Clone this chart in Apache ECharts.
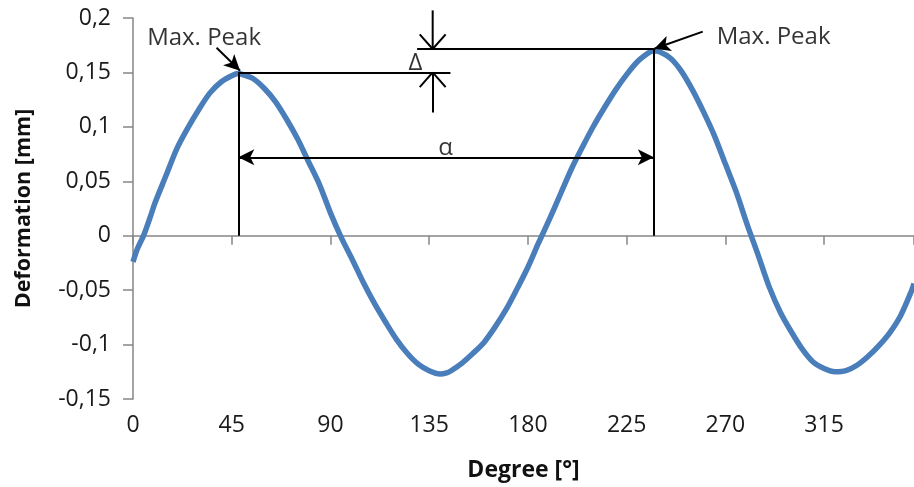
<!DOCTYPE html>
<html>
<head>
<meta charset="utf-8">
<script src="https://cdn.jsdelivr.net/npm/echarts@6/dist/echarts.min.js"></script>
<style>
  html, body { margin: 0; padding: 0; background: #fff; }
  #chart { width: 914px; height: 487px; }
</style>
</head>
<body>
<div id="chart"></div>
<script>
const degrees = [0, 2, 5, 8, 10, 15, 20, 25, 30, 35, 40, 45, 48, 50, 55, 60, 65, 70, 75, 80, 85, 90, 95,
  100, 105, 110, 115, 120, 125, 130, 135, 140, 143, 145, 150, 155, 160, 165, 170, 175, 180, 185, 190, 195,
  200, 205, 210, 215, 220, 225, 230, 235, 237, 240, 245, 250, 255, 260, 265, 270, 275, 280, 285, 290, 295,
  300, 305, 310, 315, 320, 325, 330, 335, 340, 345, 350, 355, 356]
const deformation = [-0.024, -0.012, 0.001, 0.018, 0.030, 0.055, 0.080, 0.099, 0.116, 0.131, 0.141, 0.147, 0.149, 0.148, 0.144, 0.135, 0.123, 0.107, 0.089, 0.068, 0.047, 0.021, -0.002,
  -0.022, -0.043, -0.062, -0.079, -0.095, -0.108, -0.118, -0.124, -0.127, -0.126, -0.124, -0.117, -0.108, -0.098, -0.084, -0.068, -0.049, -0.029, -0.006, 0.016, 0.039,
  0.062, 0.082, 0.101, 0.118, 0.134, 0.148, 0.160, 0.168, 0.170, 0.169, 0.163, 0.151, 0.134, 0.114, 0.092, 0.066, 0.040, 0.010, -0.018, -0.047, -0.070,
  -0.088, -0.104, -0.116, -0.122, -0.125, -0.124, -0.119, -0.111, -0.101, -0.089, -0.073, -0.050, -0.044]

const xTicks = [0, 45, 90, 135, 180, 225, 270, 315]
const yTicks = [-0.15, -0.1, -0.05, 0, 0.05, 0.1, 0.15, 0.2]

// annotation positions (degree, mm)
const peakLeft = [48, 0.15]
const peakRight = [237.4, 0.1715]
const deltaX = 136.6
const deltaTop = 0.207
const deltaBottom = 0.1133
const alphaY = 0.072
const notes = [
  [32.4, 0.1817, 'Max. Peak'],
  [292, 0.182, 'Max. Peak'],
  [128.8, 0.1585, 'Δ'],
  [142.5, 0.0803, 'α']
]
// open "V" heads of the delta arrows
const headDx = 5.9
const headDy = 0.0135

const fontFam = '"Open Sans", sans-serif'
const axisGray = '#868686'

const chartDom = document.getElementById('chart')
const myChart = echarts.init(chartDom)

const arrowEnd = { symbol: 'arrow', symbolSize: [12, 16] }

const option = {
  animation: false,
  grid: { left: 133, right: 0, top: 18, bottom: 80, containLabel: false },
  xAxis: [
    {
      type: 'value',
      min: 0,
      max: 356,
      interval: 45,
      position: 'bottom',
      axisLine: { show: false, onZero: false },
      axisTick: { show: false },
      splitLine: { show: false },
      axisLabel: {
        showMaxLabel: false,
        margin: 15,
        color: '#1a1a1a',
        fontSize: 23,
        fontFamily: fontFam,
        formatter: v => (xTicks.includes(v) ? String(v) : '')
      },
      name: 'Degree [°]',
      nameLocation: 'middle',
      nameGap: 60,
      nameTextStyle: { fontSize: 23, fontWeight: 'bold', color: '#111', fontFamily: fontFam }
    },
    {
      type: 'value',
      min: 0,
      max: 356,
      interval: 45,
      position: 'top',
      axisLine: { show: true, onZero: true, lineStyle: { color: axisGray, width: 1.5 } },
      axisTick: { show: true, inside: true, length: 9, lineStyle: { color: axisGray, width: 1.5 } },
      axisLabel: { show: false },
      splitLine: { show: false }
    }
  ],
  yAxis: {
    type: 'value',
    min: -0.15,
    max: 0.2,
    interval: 0.05,
    axisLine: { show: true, onZero: false, lineStyle: { color: axisGray, width: 1.5 } },
    axisTick: { show: true, length: 10, lineStyle: { color: axisGray, width: 1.5 } },
    splitLine: { show: false },
    axisLabel: {
      margin: 22,
      color: '#1a1a1a',
      fontSize: 23,
      fontFamily: fontFam,
      formatter: v => {
        const t = yTicks.find(k => Math.abs(k - v) < 1e-9)
        return t === undefined ? '' : String(t).replace('.', ',')
      }
    },
    name: 'Deformation [mm]',
    nameLocation: 'middle',
    nameGap: 98,
    nameTextStyle: { fontSize: 21.5, fontWeight: 'bold', color: '#111', fontFamily: fontFam }
  },
  series: [
    {
      name: 'deformation',
      type: 'line',
      xAxisIndex: 0,
      data: degrees.map((d, i) => [d, deformation[i]]),
      showSymbol: false,
      smooth: 0.3,
      lineStyle: { color: '#4a7ebb', width: 5.5 },
      itemStyle: { color: '#4a7ebb' },
      z: 3
    },
    {
      // upper delta shaft, reaches above the plot area
      name: 'deltaTop',
      type: 'line',
      xAxisIndex: 0,
      clip: false,
      silent: true,
      showSymbol: false,
      data: [[deltaX, deltaTop], [deltaX, peakRight[1]]],
      lineStyle: { color: '#000', width: 2 },
      z: 4
    },
    {
      name: 'notes',
      type: 'scatter',
      xAxisIndex: 0,
      clip: false,
      silent: true,
      symbolSize: 0,
      data: notes,
      label: {
        show: true,
        position: 'inside',
        formatter: p => p.value[2],
        color: '#000',
        fontSize: 24,
        fontFamily: fontFam
      },
      markLine: {
        silent: true,
        animation: false,
        symbol: ['none', 'none'],
        label: { show: false },
        lineStyle: { color: '#000', width: 2, type: 'solid' },
        emphasis: { disabled: true },
        data: [
          [{ coord: [peakLeft[0], 0] }, { coord: peakLeft }],
          [{ coord: peakLeft }, { coord: [144.7, peakLeft[1]] }],
          [{ coord: [129.5, peakRight[1]] }, { coord: peakRight }],
          [{ coord: [peakRight[0], 0] }, { coord: peakRight }],
          // delta heads (open V)
          [{ coord: [deltaX - headDx, peakRight[1] + headDy] }, { coord: [deltaX, peakRight[1]] }],
          [{ coord: [deltaX + headDx, peakRight[1] + headDy] }, { coord: [deltaX, peakRight[1]] }],
          [{ coord: [deltaX, deltaBottom] }, { coord: [deltaX, peakLeft[1]] }],
          [{ coord: [deltaX - headDx, peakLeft[1] - headDy] }, { coord: [deltaX, peakLeft[1]] }],
          [{ coord: [deltaX + headDx, peakLeft[1] - headDy] }, { coord: [deltaX, peakLeft[1]] }],
          // alpha
          [{ coord: [peakLeft[0], alphaY], ...arrowEnd }, { coord: [peakRight[0], alphaY], ...arrowEnd }],
          // peak pointers
          [{ coord: [38.1, 0.1726] }, { coord: [48.8, 0.1515], ...arrowEnd }],
          [{ coord: [259.7, 0.1875] }, { coord: [237.6, 0.1717], ...arrowEnd }]
        ]
      }
    }
  ]
}
option && myChart.setOption(option)
</script>
</body>
</html>
